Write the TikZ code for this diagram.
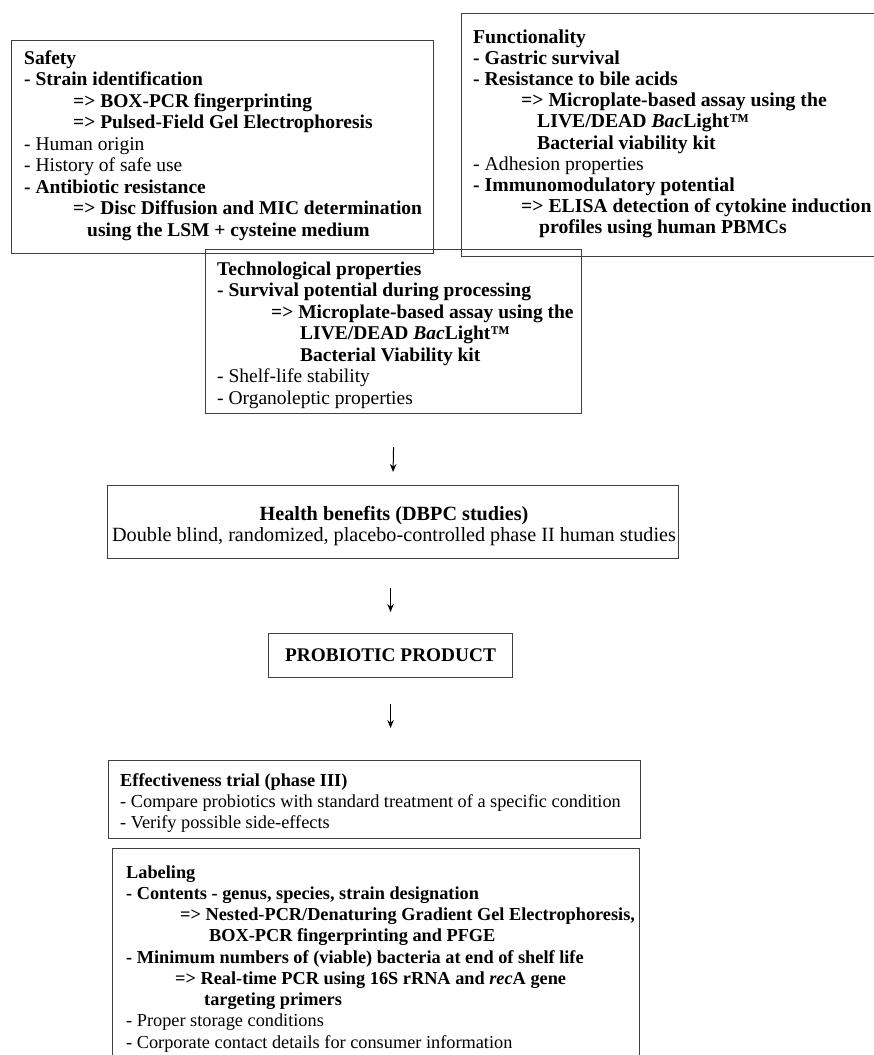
\documentclass[tikz,border=0pt]{standalone}
\usepackage{fontspec}
\setmainfont{Liberation Serif}
\usetikzlibrary{arrows.meta,calc}
\begin{document}
\begin{tikzpicture}[x=1pt,y=-1pt,
  box/.style={draw=black!75, line width=1.1pt, anchor=north west, inner sep=0pt},
  txt/.style={anchor=north west, inner sep=0pt, align=left},
  arr/.style={line width=1pt, -{Stealth[length=8pt,width=6.5pt]}}]
\useasboundingbox (0,0) rectangle (874,1055);
\fill[white] (0,0) rectangle (874,1055);
% boxes
\node[box, minimum width=422pt, minimum height=213pt] (safety) at (11,40) {};
\node[box, minimum width=430pt, minimum height=243pt] (func) at (461,13) {};
\node[box, minimum width=376pt, minimum height=164pt] (tech) at (205,249) {};
\node[box, minimum width=571pt, minimum height=73pt] (health) at (107,485) {};
\node[box, minimum width=244pt, minimum height=44pt] (prob) at (268,633) {};
\node[box, minimum width=532pt, minimum height=78pt] (eff) at (108,760) {};
\node[box, minimum width=527pt, minimum height=240pt] (label) at (112,848) {};
% texts
\node[txt, font=\fontsize{19.5}{21.5}\selectfont] (safetytxt) at (24,49) {\strut\textbf{Safety}\\
\textbf{- Strain identification}\\
\hspace*{49pt}\textbf{=> BOX-PCR fingerprinting}\\
\hspace*{49pt}\textbf{=> Pulsed-Field Gel Electrophoresis}\\
- Human origin\\
- History of safe use\\
\textbf{- Antibiotic resistance}\\
\hspace*{49pt}\textbf{=> Disc Diffusion and MIC determination}\\
\hspace*{63pt}\textbf{using the LSM + cysteine medium}};
\node[txt, font=\fontsize{19.7}{21.2}\selectfont] (functxt) at (473,28) {\strut\textbf{Functionality}\\
\textbf{- Gastric survival}\\
\textbf{- Resistance to bile acids}\\
\hspace*{48pt}\textbf{=> Microplate-based assay using the}\\
\hspace*{64pt}\textbf{LIVE/DEAD \textit{Bac}Light™}\\
\hspace*{64pt}\textbf{Bacterial viability kit}\\
- Adhesion properties\\
\textbf{- Immunomodulatory potential}\\
\hspace*{48pt}\textbf{=> ELISA detection of cytokine induction}\\
\hspace*{66pt}\textbf{profiles using human PBMCs}};
\node[txt, font=\fontsize{19.5}{21.5}\selectfont] (techtxt) at (217,260) {\strut\textbf{Technological properties}\\
\textbf{- Survival potential during processing}\\
\hspace*{54pt}\textbf{=> Microplate-based assay using the}\\
\hspace*{83pt}\textbf{LIVE/DEAD \textit{Bac}Light™}\\
\hspace*{83pt}\textbf{Bacterial Viability kit}\\
- Shelf-life stability\\
- Organoleptic properties};
\node[txt, anchor=north, align=center, font=\fontsize{20.2}{20}\selectfont] (healthtxt) at (394,506) {\strut\textbf{Health benefits (DBPC studies)}\\
Double blind, randomized, placebo-controlled phase II human studies};
\node[inner sep=0pt, font=\fontsize{19.3}{21.4}\selectfont\bfseries] (probtxt) at (prob.center) {PROBIOTIC PRODUCT};
\node[txt, font=\fontsize{18.3}{21.4}\selectfont] (efftxt) at (120,771) {\strut\textbf{Effectiveness trial (phase III)}\\
- Compare probiotics with standard treatment of a specific condition\\
- Verify possible side-effects};
\node[txt, font=\fontsize{18.3}{21.25}\selectfont] (labeltxt) at (126,863) {\strut\textbf{Labeling}\\
\textbf{- Contents - genus, species, strain designation}\\
\hspace*{54pt}\textbf{=> Nested-PCR/Denaturing Gradient Gel Electrophoresis,}\\
\hspace*{83pt}\textbf{BOX-PCR fingerprinting and PFGE}\\
\textbf{- Minimum numbers of (viable) bacteria at end of shelf life}\\
\hspace*{49pt}\textbf{=> Real-time PCR using 16S rRNA and \textit{rec}A gene}\\
\hspace*{78pt}\textbf{targeting primers}\\
- Proper storage conditions\\
- Corporate contact details for consumer information};
% arrows
\draw[arr] ($(tech.south)+(0,33)$) -- ($(health.north)+(0,-13)$);
\draw[arr] ($(health.south -| prob.north)+(0,29)$) -- ($(prob.north)+(0,-21)$);
\draw[arr] ($(prob.south)+(0,26)$) -- ($(eff.north -| prob.south)+(0,-32)$);
\end{tikzpicture}
\end{document}
